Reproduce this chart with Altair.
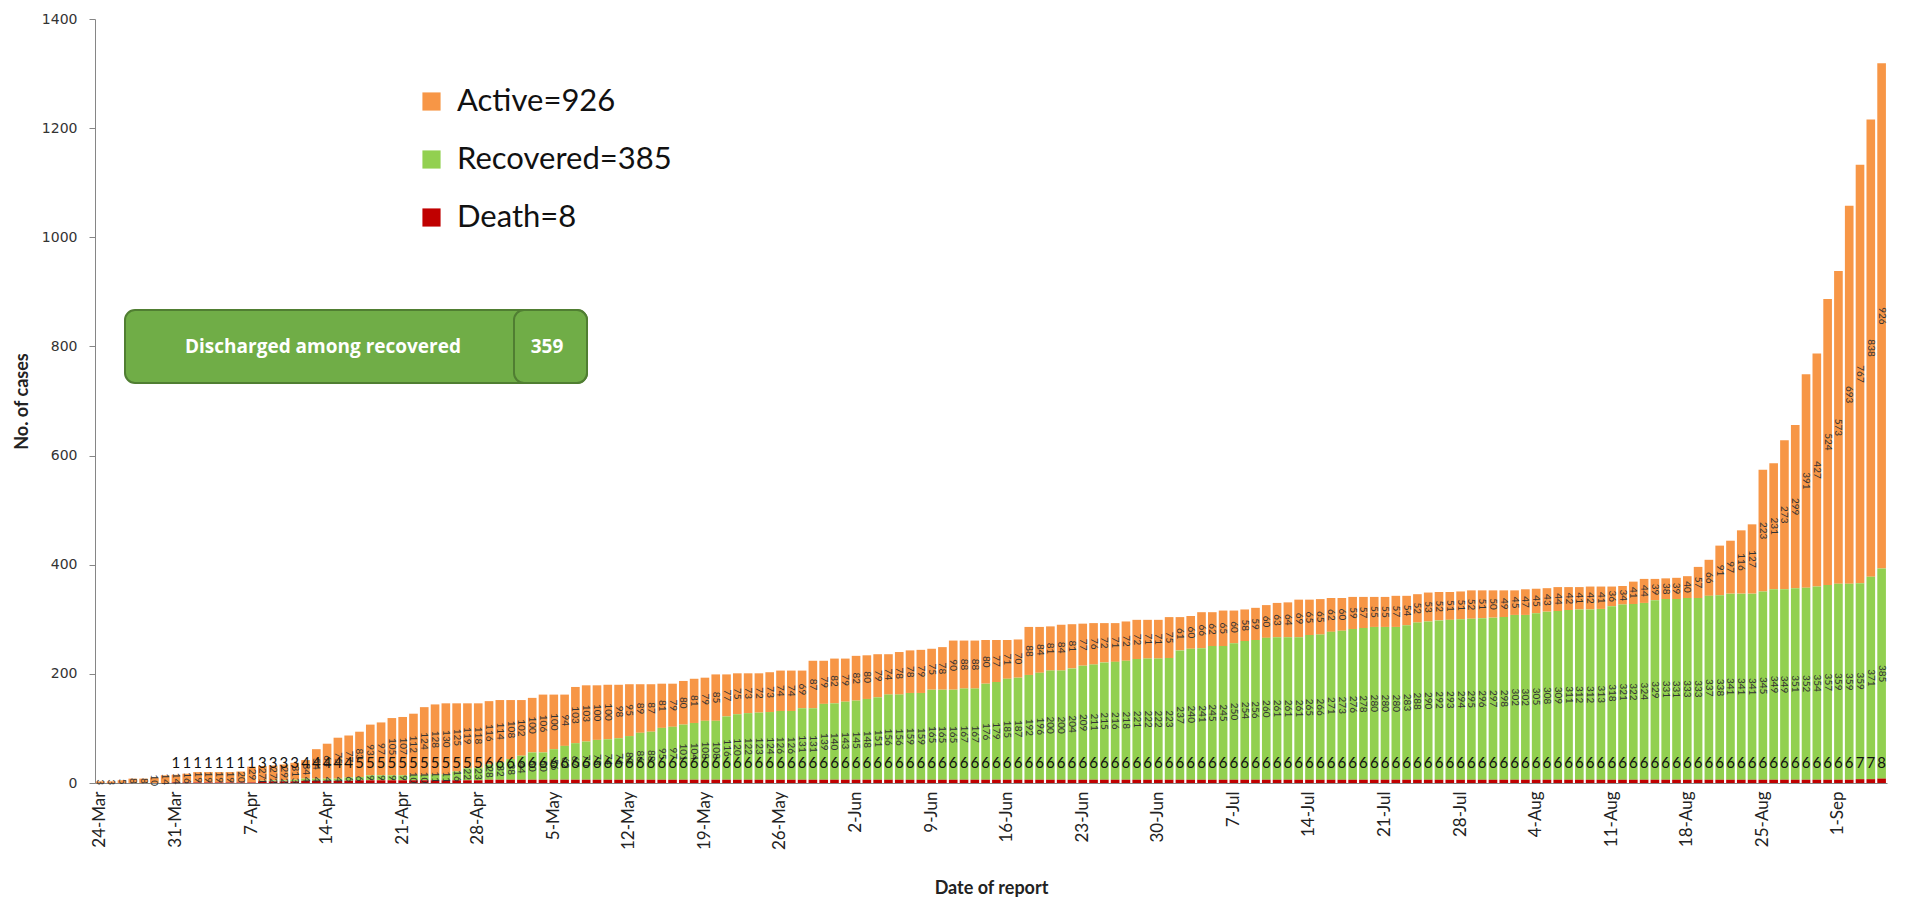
import altair as alt
import pandas as pd

# ---- data (24-Mar to 5-Sep) ----
active = [3, 3, 5, 8, 8, 10, 14, 14, 16, 19, 19, 19, 19, 20, 29, 27, 27, 29, 31, 34,
          54, 64, 75, 77, 83, 93, 97, 105, 107, 112, 124, 128, 130, 125, 119, 118, 116, 114, 108, 102,
          100, 106, 100, 94, 103, 103, 100, 100, 98, 95, 89, 87, 81, 79, 80, 81, 79,
          85, 77, 75, 73, 72, 73, 74, 74, 69, 87, 79, 82, 79, 82, 80, 79, 74, 78, 78, 79,
          75, 78, 90, 88, 88, 80, 77, 71, 70, 88,
          84, 81, 84, 81, 77, 76, 72, 71, 72, 72, 71, 71, 75, 61, 60, 66, 62, 65, 60, 58,
          59, 60, 63, 64, 69, 65, 65, 62, 60,
          59, 57, 55, 55, 57, 54, 52, 53, 52, 51, 51, 52, 51, 50, 49, 45, 47, 45, 43, 44,
          42, 41, 42, 41, 36, 34,
          41, 44, 39, 38, 39, 40, 57, 66, 91, 97, 116, 127, 223, 231, 273, 299, 391, 427,
          524, 573, 693, 767, 838, 926]
recovered = [0, 0, 0, 0, 0, 0, 0, 0, 0, 0, 0, 0, 0, 0, 0, 1, 2, 2, 3, 4,
             4, 4, 4, 6, 6, 9, 9, 9, 9, 10, 10, 11, 11, 16, 22, 23, 28, 32, 38, 44,
             50, 50, 56, 62, 67, 70, 73, 74, 76, 80, 86, 88, 95, 97, 101, 104, 108,
             108, 116, 120, 122, 123, 124, 126, 126, 131, 131, 139, 140, 143, 145, 148, 151, 156, 156, 159, 159,
             165, 165, 165, 167, 167, 176, 179, 185, 187, 192,
             196, 200, 200, 204, 209, 211, 215, 216, 218, 221, 222, 222, 223, 237, 240, 241, 245, 245, 250, 254,
             256, 260, 261, 261, 261, 265, 266, 271, 273,
             276, 278, 280, 280, 280, 283, 288, 290, 292, 293, 294, 295, 296, 297, 298, 302, 302, 305, 308, 309,
             311, 312, 312, 313, 318, 321,
             322, 324, 329, 331, 331, 333, 333, 337, 338, 341, 341, 341, 345, 349, 349, 351, 352, 354,
             357, 359, 359, 359, 371, 385]
death = ([0] * 7 + [1] * 8 + [3] * 4 + [4] * 5 + [5] * 12 + [6] * 127 + [7, 7, 8])
discharged = 359

dates = pd.date_range("2020-03-24", periods=len(active), freq="D")
day_labels = [f"{d.day}-{d.strftime('%b')}" for d in dates]
tick_labels = day_labels[::7]

df = pd.DataFrame({"date": day_labels, "Active": active,
                   "Recovered": recovered, "Death": death})

cats = ["Active", "Recovered", "Death"]
colors = ["#F79646", "#92D050", "#C00000"]
legend_expr = (f"datum.label == 'Active' ? 'Active={active[-1]}' : "
               f"datum.label == 'Recovered' ? 'Recovered={recovered[-1]}' : 'Death={death[-1]}'")

W, H = 1792, 764

x_enc = alt.X("date:N", sort=day_labels,
              scale=alt.Scale(paddingInner=0.2, paddingOuter=0.1),
              axis=alt.Axis(values=tick_labels, title="Date of report", labelAngle=270,
                            labelAlign="right", labelBaseline="middle", labelPadding=8,
                            ticks=False, labelFont="Lato", labelFontSize=17, labelColor="#222",
                            domainColor="#868686", titleFont="Lato", titleFontSize=18,
                            titleFontWeight="bold", titleColor="#222", titleY=105,
                            titleBaseline="middle"))

base = (alt.Chart(df)
        .transform_fold(cats, as_=["cat", "val"])
        .transform_calculate(y0="datum.cat == 'Death' ? 0 : (datum.cat == 'Recovered' ? datum.Death : datum.Death + datum.Recovered)")
        .transform_calculate(y1="datum.y0 + datum.val")
        .transform_calculate(mid="(datum.y0 + datum.y1) / 2"))

bars = base.mark_bar().encode(
    x=x_enc,
    y=alt.Y("y0:Q", scale=alt.Scale(domain=[0, 1400], nice=False),
            axis=alt.Axis(values=list(range(0, 1401, 200)), format="d", title="No. of cases",
                          grid=False, tickSize=6, tickColor="#868686", domainColor="#868686",
                          labelFont="DejaVu Sans", labelFontSize=14, labelColor="#333",
                          labelPadding=12, titleFont="Lato", titleFontSize=18,
                          titleFontWeight="bold", titleColor="#222", titleX=-73, titleY=H / 2,
                          titleAngle=270, titleBaseline="middle", titleAlign="center")),
    y2="y1:Q",
    color=alt.Color("cat:N", scale=alt.Scale(domain=cats, range=colors),
                    legend=alt.Legend(title=None, orient="none", legendX=321, legendY=67,
                                      symbolType="square", symbolSize=330, symbolStrokeWidth=0,
                                      labelFont="Lato", labelFontSize=31, labelColor="#111",
                                      labelLimit=0, rowPadding=26, labelOffset=10,
                                      labelExpr=legend_expr)),
)

seg_text = base.transform_filter("datum.cat != 'Death' && datum.val > 0").mark_text(
    angle=90, font="Lato", fontSize=10, color="#333", baseline="middle", align="center"
).encode(x=x_enc, y="mid:Q", text="val:Q")

death_text = alt.Chart(df).transform_filter("datum.Death > 0").mark_text(
    font="Lato", fontSize=15, color="#111", baseline="middle", align="center"
).encode(x=x_enc, y=alt.value(744), text="Death:Q")

note = pd.DataFrame({"label": ["Discharged among recovered"], "value": [str(discharged)]})
outer_box = alt.Chart(note).mark_rect(cornerRadius=10, fill="#70AD47", stroke="#507E32",
                                      strokeWidth=2).encode(
    x=alt.value(30), x2=alt.value(492), y=alt.value(291), y2=alt.value(364))
inner_box = alt.Chart(note).mark_rect(cornerRadius=10, fill="#70AD47", stroke="#507E32",
                                      strokeWidth=2).encode(
    x=alt.value(419), x2=alt.value(492), y=alt.value(291), y2=alt.value(364))
note_text = alt.Chart(note).mark_text(font="Open Sans", fontSize=19, fontWeight="bold",
                                      color="white", align="left", baseline="middle").encode(
    x=alt.value(90), y=alt.value(328), text="label:N")
note_val = alt.Chart(note).mark_text(font="Open Sans", fontSize=19, fontWeight="bold",
                                     color="white", align="center", baseline="middle").encode(
    x=alt.value(452), y=alt.value(328), text="value:N")

chart = alt.layer(bars, seg_text, death_text, outer_box, inner_box, note_text, note_val).properties(
    width=W, height=H,
    autosize=alt.AutoSizeParams(type="none"),
    padding={"left": 87, "top": 11, "right": 8, "bottom": 115},
).configure_view(stroke=None)

chart.save("out.html", embed_options={"renderer": "svg", "actions": False})
